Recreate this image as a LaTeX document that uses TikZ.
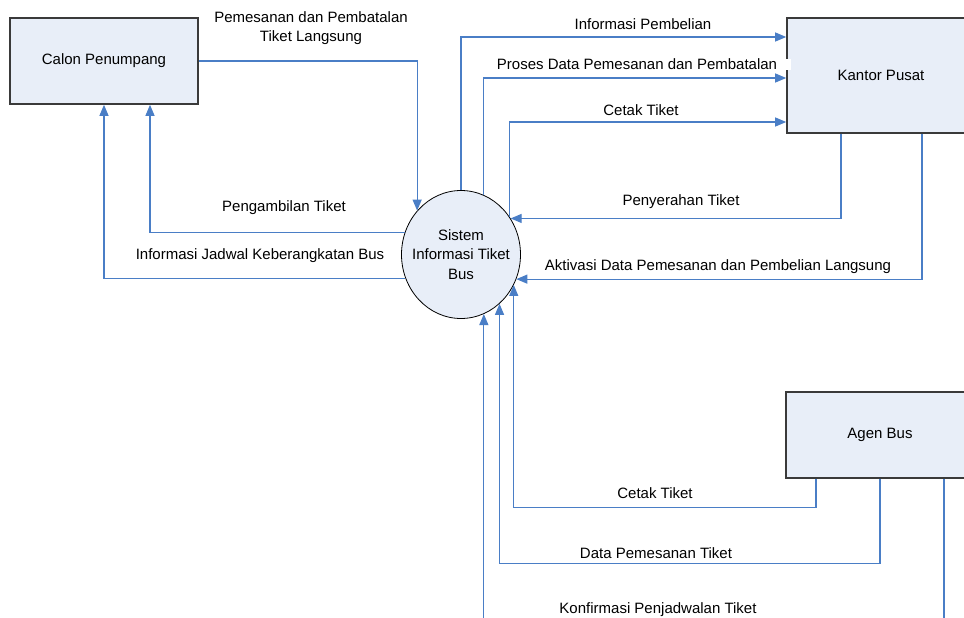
\documentclass[tikz,border=0pt]{standalone}
\usepackage{fontspec}
\setmainfont{Liberation Sans}
\usetikzlibrary{arrows.meta}
\definecolor{flowblue}{HTML}{4A7EC6}
\definecolor{boxfill}{HTML}{E8EEF8}
\definecolor{boxline}{HTML}{3A3A3A}
\tikzset{
  entity/.style={draw=boxline, line width=1.6pt, fill=boxfill, minimum width=188pt, minimum height=86pt, inner sep=0pt, font=\fontsize{15}{19}\selectfont},
  procbubble/.style={draw=black, line width=0.8pt, fill=boxfill, ellipse, minimum width=119pt, minimum height=128pt, inner sep=0pt},
  flow/.style={draw=flowblue, line width=1.1pt, -{Triangle[length=11pt,width=9pt]}},
  flowlabel/.style={inner sep=0pt, font=\fontsize{15}{19}\selectfont, align=center}
}
\usetikzlibrary{shapes.geometric}
\begin{document}
\begin{tikzpicture}[x=1pt,y=-1pt]
\useasboundingbox (0,0) rectangle (964,618);
\clip (0,0) rectangle (964,618);
% entities
\node[entity] (calon) at (104,61) {Calon Penumpang};
\node[entity, minimum height=115pt] (kantor) at (881,75.5) {Kantor Pusat};
\node[entity] (agen) at (880,435) {Agen Bus};
% process
\node[procbubble] (sys) at (461,254.5) {};
\node[flowlabel, font=\fontsize{15}{19.5}\selectfont] (sysl) at (sys.center) {Sistem\\Informasi Tiket\\Bus};
% flows
\draw[flow] (calon.east) -| (sys.135.6);
\draw[flow] (sys.159) -| ([xshift=46pt]calon.south);
\draw[flow] (sys.203.5) -| (calon.south);
\draw[flow] (sys.90) |- ([yshift=38.5pt]kantor.west);
\draw[flow] (sys.69.7) |- ([yshift=-2.5pt]kantor.west);
\draw[flow] (sys.38.2) |- ([yshift=-46.5pt]kantor.west);
\draw[flow] ([xshift=-40pt]kantor.south) |- (sys.36.7);
\draw[flow] ([xshift=41pt]kantor.south) |- (sys.-24);
\draw[flow] ([xshift=-64pt]agen.south) -- ++(0,29) -| (sys.-30.9);
\draw[flow] (agen.south) -- ++(0,85) -| (sys.-52.3);
\draw[flow] ([xshift=64pt]agen.south) -- ++(0,160) -| (sys.-69.7);
% labels
\node[flowlabel] (l1) at (311,28) {Pemesanan dan Pembatalan\\Tiket Langsung};
\node[flowlabel] (l2) at (284,208) {Pengambilan Tiket};
\node[flowlabel] (l3) at (260,255.5) {Informasi Jadwal Keberangkatan Bus};
\node[flowlabel] (l4) at (643,24) {Informasi Pembelian};
\node[flowlabel, fill=white, inner xsep=14pt, inner ysep=0pt] (l5) at (637,64.5) {Proses Data Pemesanan dan Pembatalan};
\node[flowlabel] (l6) at (641,110) {Cetak Tiket};
\node[flowlabel] (l7) at (681,202) {Penyerahan Tiket};
\node[flowlabel] (l8) at (718,267) {Aktivasi Data Pemesanan dan Pembelian Langsung};
\node[flowlabel] (l9) at (655,493.5) {Cetak Tiket};
\node[flowlabel] (l10) at (656,553.5) {Data Pemesanan Tiket};
\node[flowlabel] (l11) at (658,610) {Konfirmasi Penjadwalan Tiket};
\end{tikzpicture}
\end{document}
